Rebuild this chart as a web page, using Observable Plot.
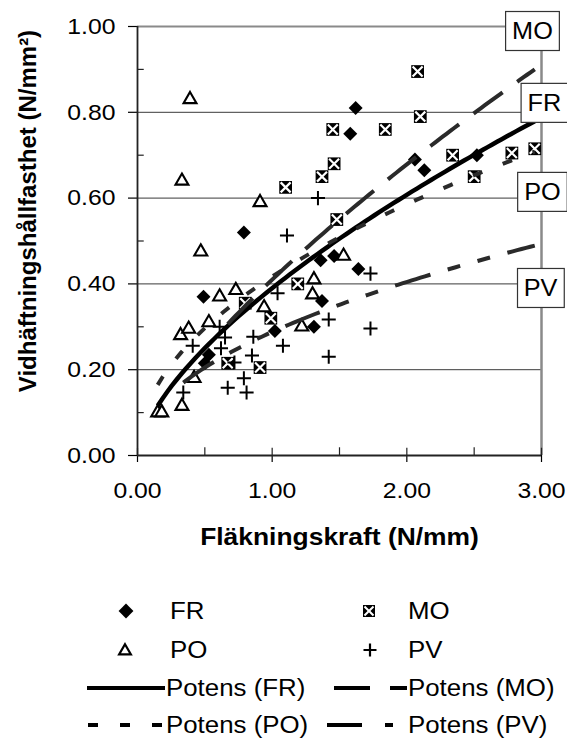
<!DOCTYPE html>
<html><head><meta charset="utf-8">
<script src="https://cdn.jsdelivr.net/npm/d3@7"></script>
<script src="https://cdn.jsdelivr.net/npm/@observablehq/plot@0.6"></script>
<style>
body{margin:0;background:#fff;}
#chart{position:relative;width:567px;height:740px;overflow:hidden;font-family:Arial,"Liberation Sans",sans-serif;}
svg{display:block;overflow:visible;}
</style></head><body><div id="chart"></div>
<script>
// ---- data ----
const frX = [0.49, 0.50, 0.53, 0.79, 1.02, 1.31, 1.37, 1.36, 1.46, 1.64, 1.58, 1.62, 2.06, 2.13, 2.52];
const frY = [0.37, 0.215, 0.235, 0.52, 0.29, 0.30, 0.36, 0.455, 0.465, 0.435, 0.75, 0.81, 0.69, 0.665, 0.70];
const moX = [0.67, 0.80, 0.91, 0.99, 1.19, 1.10, 1.37, 1.45, 1.46, 1.48, 1.84, 2.08, 2.10, 2.34, 2.50, 2.78, 2.95];
const moY = [0.215, 0.355, 0.205, 0.32, 0.40, 0.625, 0.65, 0.76, 0.68, 0.55, 0.76, 0.895, 0.79, 0.70, 0.65, 0.705, 0.715];
const poX = [0.15, 0.18, 0.33, 0.42, 0.32, 0.38, 0.53, 0.61, 0.73, 0.94, 0.47, 0.33, 0.39, 0.91, 1.22, 1.30, 1.31, 1.53];
const poY = [0.10, 0.10, 0.115, 0.18, 0.28, 0.295, 0.31, 0.37, 0.385, 0.345, 0.475, 0.64, 0.83, 0.59, 0.30, 0.375, 0.41, 0.465];
const pvX = [0.34, 0.41, 0.61, 0.62, 0.65, 0.67, 0.72, 0.79, 0.81, 0.86, 0.85, 1.04, 1.08, 1.11, 1.34, 1.42, 1.42, 1.73, 1.73];
const pvY = [0.147, 0.256, 0.30, 0.25, 0.275, 0.158, 0.217, 0.18, 0.147, 0.277, 0.233, 0.378, 0.256, 0.513, 0.60, 0.317, 0.23, 0.424, 0.296];

// power trendlines ("Potens") y = a * x^b, parameters
const fitSeries = ["FR", "MO", "PO", "PV"];
const fitA = [0.39, 0.41, 0.417, 0.288];
const fitB = [0.64, 0.727, 0.49, 0.49];
const fitFrom = [0.15, 0.67, 0.15, 0.34];
const fitTo = [2.95, 2.95, 2.95, 2.95];

// end labels
const endLabels = ["MO", "FR", "PO", "PV"];
const endLabelX = [2.933, 3.022, 3.007, 2.993];
const endLabelY = [0.988, 0.8205, 0.613, 0.389];

const yTicks = [0, 0.2, 0.4, 0.6, 0.8, 1.0];
const yMinor = [0.1, 0.3, 0.5, 0.7, 0.9];
const xTicks = [0, 1, 2, 3];
const xMinor = [0.5, 1.5, 2.5];
const gridY = [0.2, 0.4, 0.6, 0.8];
const xTitle = "Fläkningskraft (N/mm)";
const yTitle = "Vidhäftningshållfasthet (N/mm²)";

const legendRows = [
  ["FR", "MO"], ["PO", "PV"],
  ["Potens (FR)", "Potens (MO)"], ["Potens (PO)", "Potens (PV)"]
];

// ---- build ----
const pts = (xs, ys) => xs.map((x, i) => ({x, y: ys[i]}));
const fr = pts(frX, frY), mo = pts(moX, moY), po = pts(poX, poY), pv = pts(pvX, pvY);
const curve = (k) => {
  const n = 80, out = [];
  for (let i = 0; i <= n; i++) {
    const x = fitFrom[k] + (fitTo[k] - fitFrom[k]) * i / n;
    out.push({x, y: fitA[k] * Math.pow(x, fitB[k])});
  }
  return out;
};
const lineStyle = {
  FR: {stroke: "#000", strokeWidth: 4.5},
  MO: {stroke: "#2a2a2a", strokeWidth: 4, strokeDasharray: "36,18"},
  PO: {stroke: "#2a2a2a", strokeWidth: 4, strokeDasharray: "10,22"},
  PV: {stroke: "#2a2a2a", strokeWidth: 4, strokeDasharray: "37,18,13,18,13,18"}
};

const FONT = "Arial, 'Liberation Sans', sans-serif";
const chart = Plot.plot({
  width: 567, height: 580,
  marginTop: 26, marginRight: 26, marginBottom: 125, marginLeft: 137,
  style: {fontFamily: FONT, fontSize: "22.5px", background: "#fff", color: "#000", overflow: "visible"},
  x: {domain: [0, 3]},
  y: {domain: [0, 1]},
  marks: [
    Plot.ruleY(gridY, {stroke: "#3a3a3a", strokeWidth: 1}),
    Plot.ruleY([1], {stroke: "#8a8a8a", strokeWidth: 2}),
    Plot.ruleX([3], {stroke: "#8a8a8a", strokeWidth: 2.5}),
    Plot.ruleY(yMinor, {x1: 0, x2: 0.05, stroke: "#222", strokeWidth: 1.2}),
    Plot.ruleX(xMinor, {y1: 0, y2: 0.018, stroke: "#222", strokeWidth: 1.2}),
    Plot.ruleX(xTicks, {y1: 0, y2: 0.017, stroke: "#222", strokeWidth: 1.2}),
    Plot.axisY({ticks: yTicks, tickSize: 9, tickPadding: 13, tickFormat: d3.format(".2f"), label: null, strokeWidth: 1.2}),
    Plot.axisX({ticks: xTicks, tickSize: 7, tickPadding: 20, tickFormat: d3.format(".2f"), label: null, strokeWidth: 1.2}),
    Plot.ruleX([0], {stroke: "#222", strokeWidth: 1.8}),
    Plot.ruleY([0], {stroke: "#222", strokeWidth: 1.8}),
    // series markers
    Plot.dot(fr, {x: "x", y: "y", symbol: "diamond2", r: 6.3, fill: "#000", stroke: "none"}),
    Plot.dot(mo, {x: "x", y: "y", symbol: "square", r: 7.2, fill: "#000", stroke: "none"}),
    Plot.dot(mo, {x: "x", y: "y", symbol: "times", r: 4.6, fill: "none", stroke: "#fff", strokeWidth: 2.2}),
    Plot.dot(po, {x: "x", y: "y", symbol: "triangle", r: 4.8, fill: "#fff", stroke: "#000", strokeWidth: 2.1}),
    Plot.dot(pv, {x: "x", y: "y", symbol: "plus", r: 4.6, fill: "none", stroke: "#000", strokeWidth: 2}),
    // trendlines
    ...fitSeries.map((s, k) => Plot.line(curve(k), {x: "x", y: "y", ...lineStyle[s], strokeLinecap: "butt"})),
    // end labels
    Plot.text(endLabels, {x: endLabelX, y: endLabelY, text: d => d, fontSize: 23, fill: "#000", ariaDescription: "boxlabels"}),
    // axis titles
    Plot.text([xTitle], {frameAnchor: "bottom", textAnchor: "middle", lineAnchor: "middle", dy: 82, fontWeight: "bold", fontSize: 24}),
    Plot.text([yTitle], {frameAnchor: "left", textAnchor: "middle", lineAnchor: "middle", rotate: -90, dx: -109, dy: -30, fontWeight: "bold", fontSize: 24, ariaDescription: "ytitle"})
  ]
});

const host = document.getElementById("chart");
host.appendChild(chart);

// the reference text is slightly wider than Arial: stretch horizontal text
const STRETCH = 1.1;
const stretch = (root, skip) => {
  root.querySelectorAll("text").forEach(t => {
    if (skip && t.closest(skip)) return;
    const L = t.getComputedTextLength();
    if (L > 0) {
      t.setAttribute("textLength", (L * STRETCH).toFixed(2));
      t.setAttribute("lengthAdjust", "spacingAndGlyphs");
    }
  });
};

// boxes behind end labels
const NS = "http://www.w3.org/2000/svg";
const lg = chart.querySelector('[aria-description="boxlabels"]');
if (lg) {
  lg.querySelectorAll("text").forEach(t => {
    const b = t.getBBox();
    const L = t.getComputedTextLength() * STRETCH;
    const cx = b.x + b.width / 2, cy = b.y + b.height / 2;
    const r = document.createElementNS(NS, "rect");
    r.setAttribute("x", cx - L / 2 - 6.5);
    r.setAttribute("width", L + 13);
    r.setAttribute("y", cy - 19.5);
    r.setAttribute("height", 39);
    r.setAttribute("fill", "#fff");
    r.setAttribute("stroke", "#333");
    r.setAttribute("stroke-width", 1.2);
    if (t.getAttribute("transform")) r.setAttribute("transform", t.getAttribute("transform"));
    t.parentNode.insertBefore(r, t);
  });
}
stretch(chart, '[aria-description="ytitle"]');

// ---- legend below the plot ----
const leg = d3.create("svg").attr("width", 567).attr("height", 160)
  .style("font-family", FONT).style("font-size", "23.5px");
const rowY = [31, 70, 108, 145];
const colText = [170, 408];
const symX = [126, 369];
// row 0: FR diamond, MO square with white X
leg.append("path").attr("transform", `translate(${symX[0]},${rowY[0]})`).attr("d", d3.symbol(d3.symbolDiamond2, 140)()).attr("fill", "#000");
leg.append("path").attr("transform", `translate(${symX[1]},${rowY[0]})`).attr("d", d3.symbol(d3.symbolSquare, 144)()).attr("fill", "#000");
leg.append("path").attr("transform", `translate(${symX[1]},${rowY[0]})`).attr("d", d3.symbol(d3.symbolTimes, 55)()).attr("fill", "none").attr("stroke", "#fff").attr("stroke-width", 2);
// row 1: PO triangle, PV plus
leg.append("path").attr("transform", `translate(${symX[0] - 1},${rowY[1] + 1})`).attr("d", d3.symbol(d3.symbolTriangle, 60)()).attr("fill", "#fff").attr("stroke", "#000").attr("stroke-width", 2.2);
leg.append("path").attr("transform", `translate(${symX[1] + 1},${rowY[1]})`).attr("d", d3.symbol(d3.symbolPlus, 57)()).attr("fill", "none").attr("stroke", "#000").attr("stroke-width", 2.2);
// rows 2-3: line samples
const sample = (x1, x2, y, st) => leg.append("line").attr("x1", x1).attr("x2", x2).attr("y1", y).attr("y2", y)
  .attr("stroke", "#000").attr("stroke-width", 4).attr("stroke-dasharray", st || null);
sample(87, 165, rowY[2], null);
sample(334, 407, rowY[2], "36,20");
sample(88, 163, rowY[3], "10,22");
sample(327, 395, rowY[3], "35,23,8,40");
legendRows.forEach((row, ri) => row.forEach((name, ci) => {
  const x = ri >= 2 ? (ci === 0 ? 166 : 408) : colText[ci];
  leg.append("text").attr("x", x).attr("y", rowY[ri]).attr("dy", "0.35em").text(name);
}));
host.appendChild(leg.node());
stretch(leg.node(), null);
</script></body></html>
